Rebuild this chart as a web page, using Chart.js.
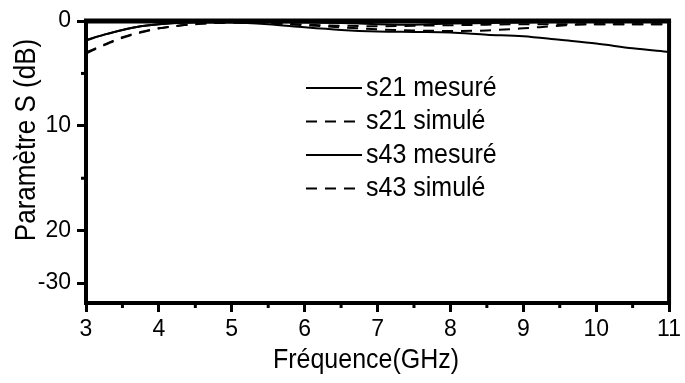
<!DOCTYPE html>
<html>
<head>
<meta charset="utf-8">
<script src="https://cdn.jsdelivr.net/npm/chart.js@4.4.0/dist/chart.umd.min.js"></script>
<style>
  html, body { margin: 0; padding: 0; background: #fff; }
  canvas { display: block; }
</style>
</head>
<body>
<canvas id="chart" width="685" height="383"></canvas>
<script>
// S-parameter chart (measured vs simulated), values in dB loss (axis drawn downward)

const freq      = [3, 3.25, 3.5, 3.75, 4, 4.5, 5, 5.5, 6, 6.5, 7, 7.5, 8, 8.5, 9, 9.5, 10, 10.5, 11];
const s21Mesure = [1.8, 1.3, 0.85, 0.5, 0.3, 0.15, 0.15, 0.3, 0.6, 0.85, 1.0, 1.05, 1.1, 1.3, 1.45, 1.8, 2.15, 2.6, 2.95];
const s21Simule = [3.1, 2.3, 1.6, 1.1, 0.7, 0.3, 0.15, 0.2, 0.4, 0.6, 0.8, 0.9, 0.95, 0.9, 0.7, 0.45, 0.3, 0.3, 0.3];
const s43Mesure = [1.85, 1.3, 0.85, 0.5, 0.3, 0.1, 0.1, 0.1, 0.15, 0.2, 0.3, 0.35, 0.25, 0.2, 0.15, 0.1, 0.1, 0.1, 0.1];
const s43Simule = [3.0, 2.25, 1.55, 1.05, 0.7, 0.3, 0.15, 0.2, 0.35, 0.45, 0.5, 0.45, 0.4, 0.35, 0.3, 0.3, 0.3, 0.3, 0.3];

const yTickValues = [0, 10, 20, 25];
const yTickLabels = ['0', '10', '20', '-30'];
const xMinorTicks = [3.5, 4.5, 5.5, 6.5, 7.5, 8.5, 9.5, 10.5];
const yMinorTicks = [5, 15];

const legendLabels = ['s21 mesuré', 's21 simulé', 's43 mesuré', 's43 simulé'];
const FONT = '"Liberation Sans", Arial, sans-serif';
const DASH = [11, 8];
const STRETCH = 1.12; // text in the reference looks a bit taller than wide

function toPoints(vals){
  return freq.map((f, i) => ({ x: f, y: vals[i] }));
}

function makeSet(label, vals, dashed){
  return {
    label,
    data: toPoints(vals),
    borderColor: '#000',
    borderWidth: 2,
    borderDash: dashed ? DASH : [],
    pointRadius: 0,
    cubicInterpolationMode: 'monotone',
    fill: false
  };
}

function tallText(ctx, text, x, y){
  ctx.save();
  ctx.translate(x, y);
  ctx.scale(1, STRETCH);
  ctx.fillText(text, 0, 0);
  ctx.restore();
}

// frame, minor ticks, titles and legend
const decorations = {
  id: 'decorations',
  afterDraw(chart){
    const ctx = chart.ctx;
    const a = chart.chartArea;
    const xs = chart.scales.x, ys = chart.scales.y;
    ctx.save();
    ctx.strokeStyle = '#000';
    ctx.lineCap = 'butt';

    // top and right edges of the frame
    ctx.lineWidth = 5;
    ctx.beginPath();
    ctx.moveTo(a.left - 2, a.top);
    ctx.lineTo(a.right + 2, a.top);
    ctx.stroke();
    ctx.lineWidth = 4;
    ctx.beginPath();
    ctx.moveTo(a.right, a.top);
    ctx.lineTo(a.right, a.bottom + 2);
    ctx.stroke();

    // minor ticks
    ctx.lineWidth = 3;
    xMinorTicks.forEach(v => {
      const px = xs.getPixelForValue(v);
      ctx.beginPath();
      ctx.moveTo(px, a.bottom);
      ctx.lineTo(px, a.bottom + 5);
      ctx.stroke();
    });
    yMinorTicks.forEach(v => {
      const py = ys.getPixelForValue(v);
      ctx.beginPath();
      ctx.moveTo(a.left, py);
      ctx.lineTo(a.left - 5, py);
      ctx.stroke();
    });

    // axis titles
    ctx.fillStyle = '#000';
    ctx.textAlign = 'center';
    ctx.textBaseline = 'middle';
    ctx.font = '25px ' + FONT;
    tallText(ctx, 'Fréquence(GHz)', 366, 360);
    ctx.save();
    ctx.translate(27, 140);
    ctx.rotate(-Math.PI / 2);
    ctx.font = '26px ' + FONT;
    ctx.scale(1, STRETCH);
    ctx.fillText('Paramètre S (dB)', 0, 0);
    ctx.restore();

    // legend
    ctx.font = '25px ' + FONT;
    ctx.textAlign = 'left';
    ctx.lineWidth = 2;
    legendLabels.forEach((lab, i) => {
      const y = 88 + i * 33.5;
      ctx.setLineDash(i % 2 === 1 ? DASH : []);
      ctx.beginPath();
      ctx.moveTo(306, y);
      ctx.lineTo(362, y);
      ctx.stroke();
      ctx.setLineDash([]);
      tallText(ctx, lab, 366, y);
    });
    ctx.restore();
  }
};

new Chart(document.getElementById('chart'), {
  type: 'line',
  data: {
    datasets: [
      makeSet('s21 mesuré', s21Mesure, false),
      makeSet('s21 simulé', s21Simule, true),
      makeSet('s43 mesuré', s43Mesure, false),
      makeSet('s43 simulé', s43Simule, true)
    ]
  },
  options: {
    responsive: false,
    devicePixelRatio: 1,
    animation: false,
    layout: { autoPadding: false, padding: { left: 0, right: 8, top: 21, bottom: 0 } },
    plugins: { legend: { display: false }, tooltip: { enabled: false } },
    scales: {
      x: {
        type: 'linear',
        min: 3, max: 11,
        afterFit(scale){ scale.height = 80; },
        ticks: {
          stepSize: 1,
          color: '#000',
          padding: 4,
          maxRotation: 0,
          font: { family: FONT, size: 23 }
        },
        grid: { drawOnChartArea: false, drawTicks: true, tickLength: 9, lineWidth: 3, color: '#000' },
        border: { display: true, width: 4, color: '#000' }
      },
      y: {
        type: 'linear',
        reverse: true,
        min: 0, max: 26.9,
        afterFit(scale){ scale.width = 86; },
        afterBuildTicks(scale){
          scale.ticks = yTickValues.map(v => ({ value: v }));
        },
        ticks: {
          color: '#000',
          padding: 6,
          font: { family: FONT, size: 23 },
          callback(value){
            const i = yTickValues.indexOf(value);
            return i >= 0 ? yTickLabels[i] : '';
          }
        },
        grid: { drawOnChartArea: false, drawTicks: true, tickLength: 9, lineWidth: 3, color: '#000' },
        border: { display: true, width: 4, color: '#000' }
      }
    }
  },
  plugins: [decorations]
});
</script>
</body>
</html>
